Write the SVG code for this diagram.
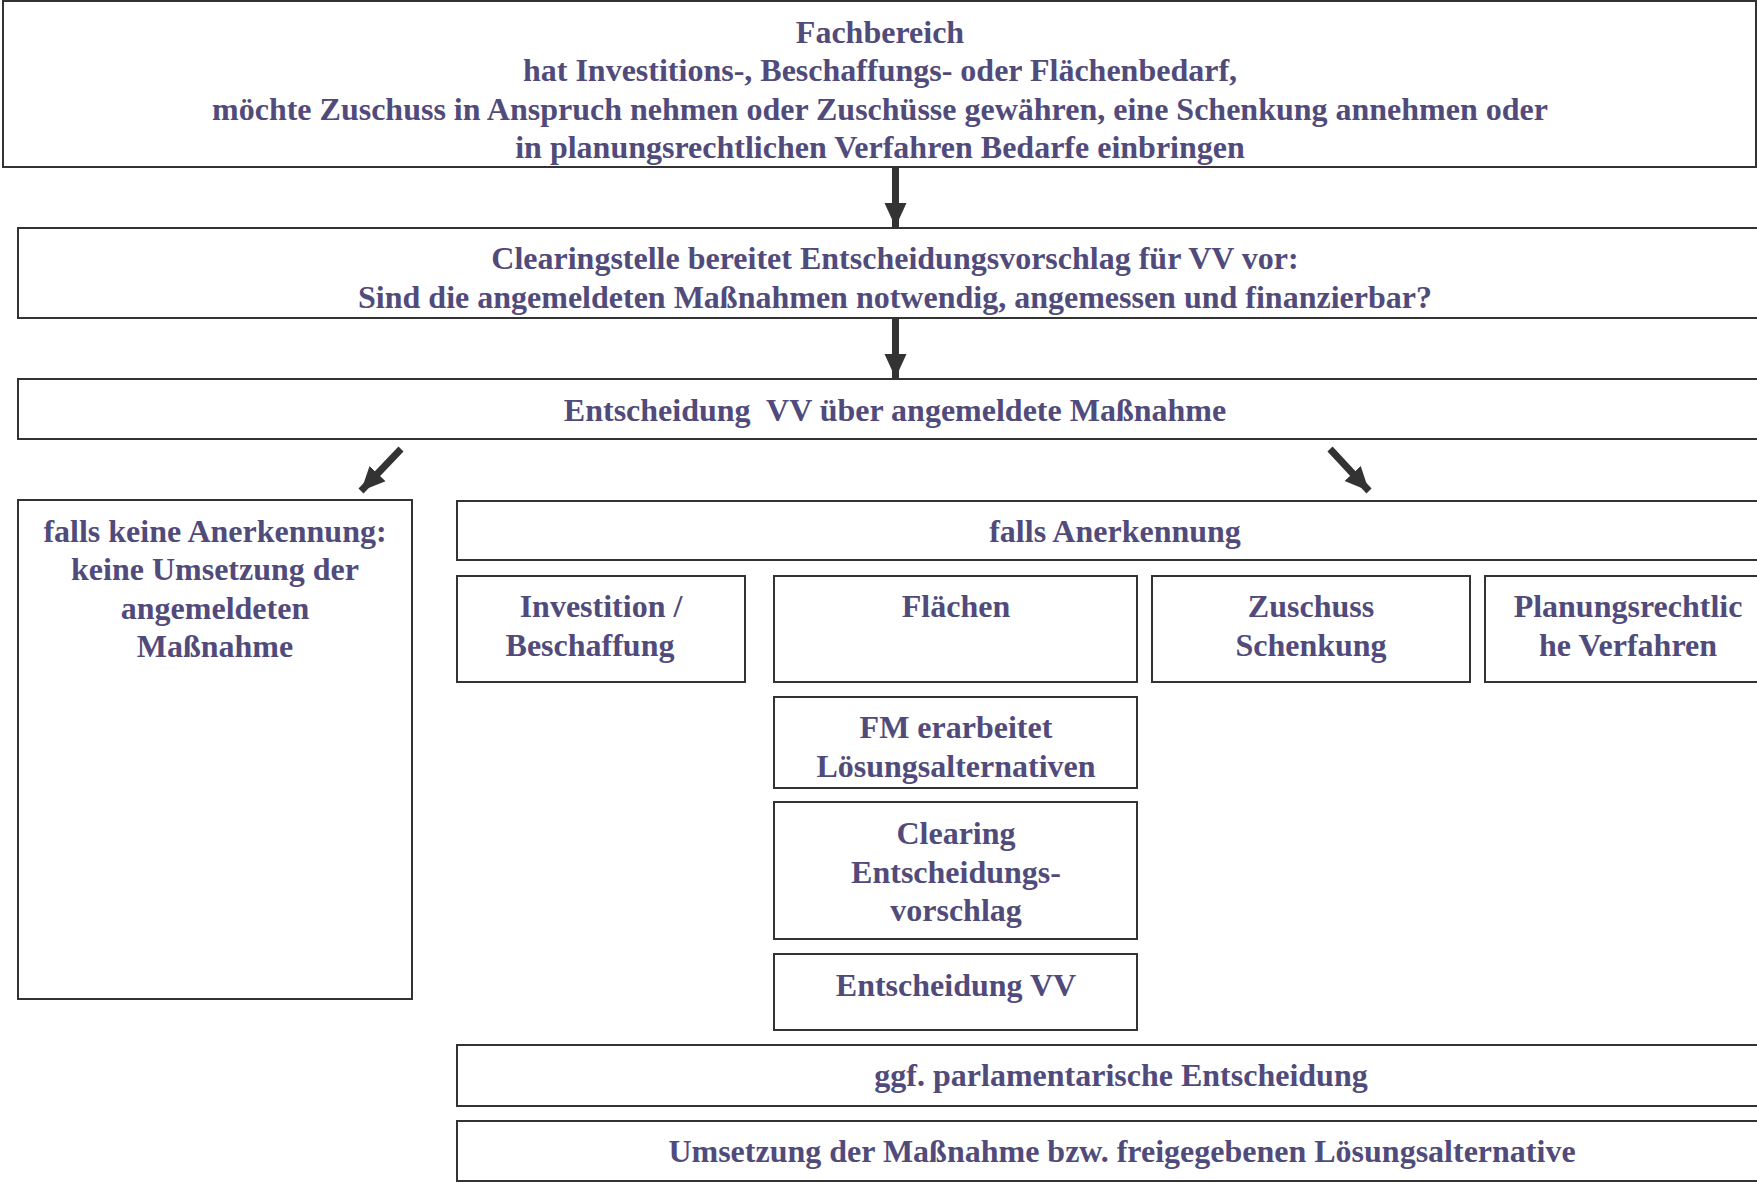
<svg xmlns="http://www.w3.org/2000/svg" width="1757" height="1183" viewBox="0 0 1757 1183">
<style>
.box{fill:#fff;stroke:#333;stroke-width:2}
.t{font-family:"Liberation Serif","Times New Roman",serif;font-weight:bold;font-size:32px;fill:#514b7b;text-anchor:middle}
.arr{stroke:#333;stroke-width:7;fill:none}
</style>
<defs>
<marker id="ah" markerUnits="userSpaceOnUse" markerWidth="24" markerHeight="24" viewBox="0 0 24 24" refX="24" refY="12" orient="auto">
<path d="M0,1 L24,12 L0,23 Z" fill="#333"/>
</marker>
</defs>
<rect width="1757" height="1183" fill="#fff"/>
<g id="n-fachbereich">
<rect class="box" x="3" y="1" width="1753" height="166"/>
<text class="t" x="880" y="43">Fachbereich</text>
<text class="t" x="880" y="81">hat Investitions-, Beschaffungs- oder Flächenbedarf,</text>
<text class="t" x="880" y="120">möchte Zuschuss in Anspruch nehmen oder Zuschüsse gewähren, eine Schenkung annehmen oder</text>
<text class="t" x="880" y="158">in planungsrechtlichen Verfahren Bedarfe einbringen</text>
</g>
<g id="n-clearingstelle">
<rect class="box" x="18" y="228" width="1760" height="90"/>
<text class="t" x="895" y="269">Clearingstelle bereitet Entscheidungsvorschlag für VV vor:</text>
<text class="t" x="895" y="308">Sind die angemeldeten Maßnahmen notwendig, angemessen und finanzierbar?</text>
</g>
<g id="n-entscheidung">
<rect class="box" x="18" y="379" width="1760" height="60"/>
<text class="t" x="895" y="421" xml:space="preserve">Entscheidung  VV über angemeldete Maßnahme</text>
</g>
<g id="n-keine">
<rect class="box" x="18" y="500" width="394" height="499"/>
<text class="t" x="215" y="542">falls keine Anerkennung:</text>
<text class="t" x="215" y="580">keine Umsetzung der</text>
<text class="t" x="215" y="619">angemeldeten</text>
<text class="t" x="215" y="657">Maßnahme</text>
</g>
<g id="n-anerkennung">
<rect class="box" x="457" y="501" width="1320" height="59"/>
<text class="t" x="1115" y="542">falls Anerkennung</text>
</g>
<g id="n-investition">
<rect class="box" x="457" y="576" width="288" height="106"/>
<text class="t" x="601" y="617">Investition /</text>
<text class="t" x="590" y="656">Beschaffung</text>
</g>
<g id="n-flaechen">
<rect class="box" x="774" y="576" width="363" height="106"/>
<text class="t" x="956" y="617">Flächen</text>
</g>
<g id="n-zuschuss">
<rect class="box" x="1152" y="576" width="318" height="106"/>
<text class="t" x="1311" y="617">Zuschuss</text>
<text class="t" x="1311" y="656">Schenkung</text>
</g>
<g id="n-planung">
<rect class="box" x="1485" y="576" width="290" height="106"/>
<text class="t" x="1628" y="617">Planungsrechtlic</text>
<text class="t" x="1628" y="656">he Verfahren</text>
</g>
<g id="n-fm">
<rect class="box" x="774" y="697" width="363" height="91"/>
<text class="t" x="956" y="738">FM erarbeitet</text>
<text class="t" x="956" y="777">Lösungsalternativen</text>
</g>
<g id="n-clearing">
<rect class="box" x="774" y="802" width="363" height="137"/>
<text class="t" x="956" y="844">Clearing</text>
<text class="t" x="956" y="883">Entscheidungs-</text>
<text class="t" x="956" y="921">vorschlag</text>
</g>
<g id="n-entscheidung-vv">
<rect class="box" x="774" y="954" width="363" height="76"/>
<text class="t" x="956" y="996">Entscheidung VV</text>
</g>
<g id="n-parlament">
<rect class="box" x="457" y="1045" width="1320" height="61"/>
<text class="t" x="1121" y="1086">ggf. parlamentarische Entscheidung</text>
</g>
<g id="n-umsetzung">
<rect class="box" x="457" y="1121" width="1320" height="60"/>
<text class="t" x="1122" y="1162">Umsetzung der Maßnahme bzw. freigegebenen Lösungsalternative</text>
</g>
<g id="connectors">
<line class="arr" x1="895.5" y1="168" x2="895.5" y2="227" marker-end="url(#ah)"/>
<line class="arr" x1="895.5" y1="319" x2="895.5" y2="378" marker-end="url(#ah)"/>
<line class="arr" x1="401" y1="449" x2="361" y2="491" marker-end="url(#ah)"/>
<line class="arr" x1="1330" y1="449" x2="1369" y2="491" marker-end="url(#ah)"/>
</g>
</svg>
